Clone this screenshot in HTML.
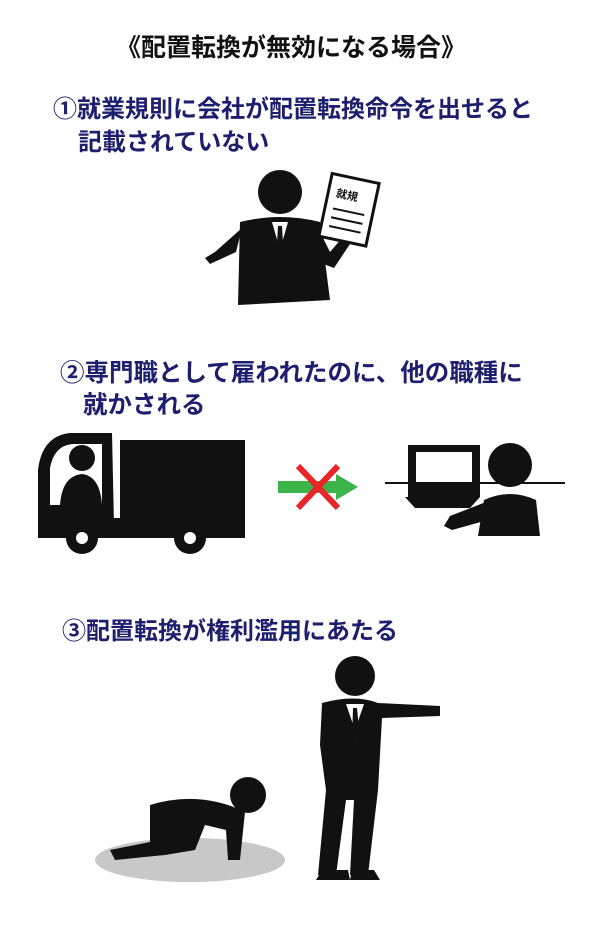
<!DOCTYPE html>
<html><head><meta charset="utf-8"><style>
html,body{margin:0;padding:0;background:#fff;}
body{width:600px;height:950px;position:relative;overflow:hidden;font-family:"Liberation Sans","Noto Sans CJK JP",sans-serif;}
.t{position:absolute;font-weight:bold;white-space:nowrap;}
.h{color:#1e1e6e;font-size:24px;}
svg{position:absolute;left:0;top:0;}
</style></head><body>
<div class="t" style="left:116px;top:28px;font-size:25px;color:#111;">《配置転換が無効になる場合》</div>
<div class="t h" style="left:53px;top:89px;">①就業規則に会社が配置転換命令を出せると</div>
<div class="t h" style="left:78px;top:122px;">記載されていない</div>
<div class="t h" style="left:60px;top:354px;font-size:24.5px;">②専門職として雇われたのに、他の職種に</div>
<div class="t h" style="left:83px;top:386px;font-size:24.5px;">就かされる</div>
<div class="t h" style="left:62px;top:611px;">③配置転換が権利濫用にあたる</div>
<svg width="600" height="950" viewBox="0 0 600 950">
<g fill="#111">
<circle cx="280" cy="192" r="22"/>
<path d="M240 222 Q280 212 320 222 L330 300 L238 305 Z"/>
<path d="M242 228 L215 252 L205 258 L210 264 L236 252 Z"/>
<path d="M318 228 L330 252 L342 238 L350 244 L334 268 L318 262 Z"/>
</g>
<path d="M272 222 L280 250 L288 222 Z" fill="#fff"/>
<path d="M278 226 L276 260 L280 270 L284 260 L282 226 Z" fill="#111"/>
<g transform="rotate(12 350 210)">
<rect x="325" y="178" width="48" height="64" fill="#fff" stroke="#111" stroke-width="3"/>
<text x="333" y="200" font-size="11" font-weight="bold" fill="#111">就規</text>
<line x1="333" y1="212" x2="365" y2="212" stroke="#111" stroke-width="2"/>
<line x1="333" y1="221" x2="365" y2="221" stroke="#111" stroke-width="2"/>
<line x1="333" y1="230" x2="365" y2="230" stroke="#111" stroke-width="2"/>
</g>
<g fill="#111">
<rect x="120" y="440" width="125" height="78"/>
<path d="M38 470 Q42 436 70 433 L112 433 L114 525 L38 525 Z"/>
<rect x="38" y="518" width="207" height="20"/>
<circle cx="82" cy="538" r="16"/><circle cx="190" cy="538" r="16"/>
</g>
<path d="M50 468 Q54 446 72 444 L102 444 L102 505 L50 505 Z" fill="#fff"/>
<circle cx="82" cy="458" r="13" fill="#111"/>
<path d="M60 505 Q62 476 82 474 Q100 476 102 505 Z" fill="#111"/>
<circle cx="82" cy="538" r="6" fill="#fff"/><circle cx="190" cy="538" r="6" fill="#fff"/>
<rect x="278" y="481" width="60" height="12" fill="#3cb44a"/>
<path d="M336 474 L358 487 L336 500 Z" fill="#3cb44a"/>
<path d="M298 466 L338 508 M338 466 L298 508" stroke="#e8262a" stroke-width="6"/>
<line x1="385" y1="483" x2="565" y2="483" stroke="#111" stroke-width="2"/>
<rect x="408" y="445" width="72" height="52" fill="#111"/>
<rect x="416" y="452" width="56" height="30" fill="#fff"/>
<path d="M405 497 L480 497 L470 508 L415 508 Z" fill="#111"/>
<circle cx="510" cy="465" r="22" fill="#111"/>
<path d="M478 536 L484 500 Q510 488 536 500 L540 536 Z" fill="#111"/>
<path d="M486 502 L450 516 L444 526 L452 530 L488 520 Z" fill="#111"/>
<ellipse cx="190" cy="860" rx="95" ry="22" fill="#c8c8c8"/>
<g fill="#111">
<circle cx="355" cy="676" r="20"/>
<path d="M322 703 Q355 694 378 703 L440 706 L440 716 L382 718 L378 790 L368 875 L350 875 L354 800 L346 800 L336 875 L318 875 L326 790 L320 745 Z"/>
<path d="M316 880 L350 880 L348 870 L322 870 Z M350 880 L380 880 L374 870 L352 870 Z"/>
<circle cx="248" cy="795" r="18"/>
<path d="M150 805 Q200 790 245 812 L240 860 L228 860 L226 830 L205 825 L195 850 L165 855 L115 860 L110 850 L150 842 L150 830 Z"/>
</g>
<path d="M346 704 L355 730 L364 704 Z" fill="#fff"/>
<path d="M353 708 L352 740 L356 748 L360 740 L357 708 Z" fill="#111"/>
</svg>
</body></html>
